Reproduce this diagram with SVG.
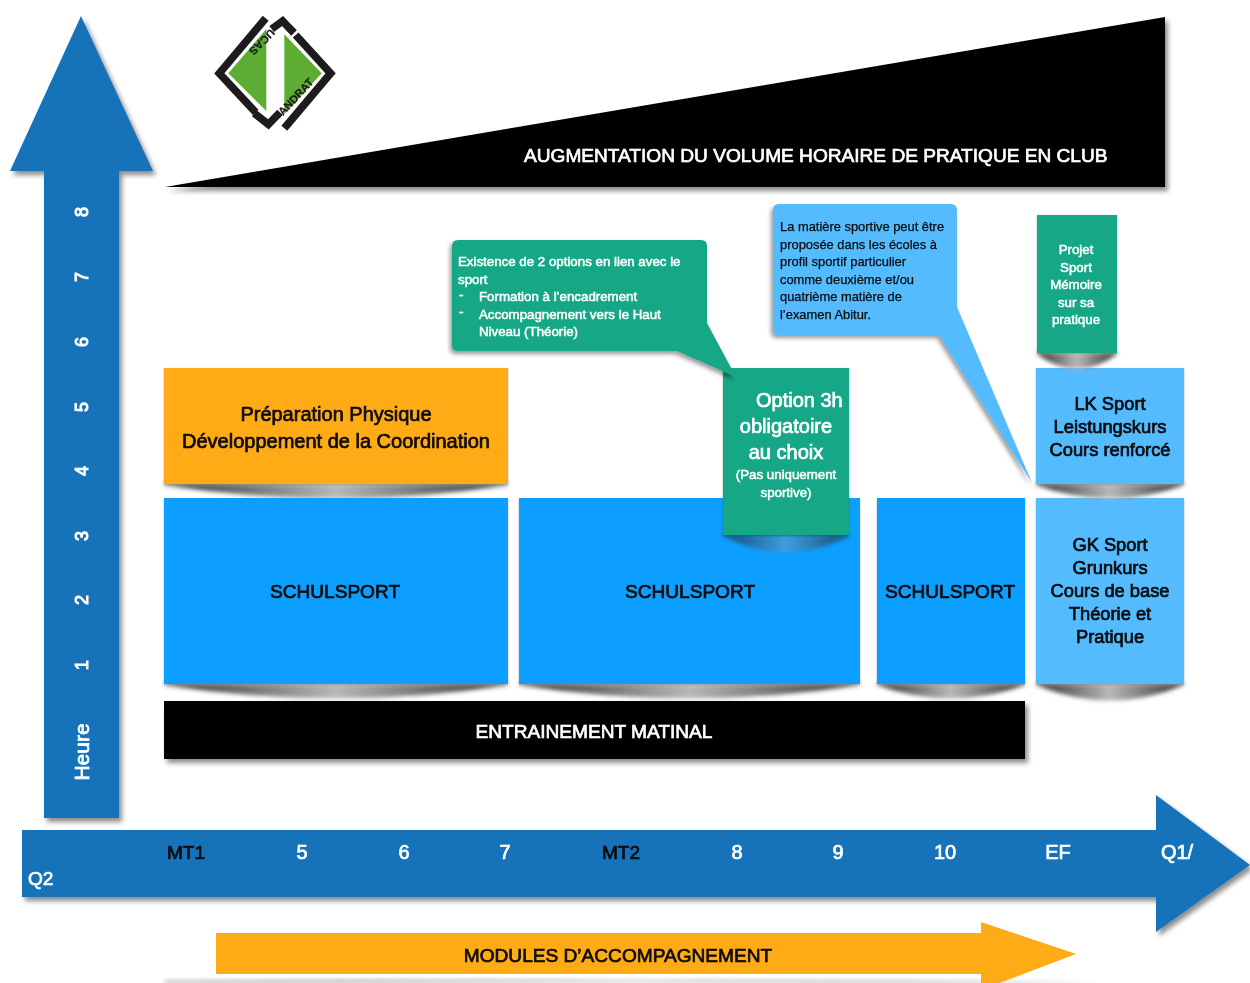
<svg xmlns="http://www.w3.org/2000/svg" width="1250" height="983" viewBox="0 0 1250 983">
<style>
text{font-family:"Liberation Sans",Arial,sans-serif;stroke-width:.7}
.k{fill:#0a0a0a;stroke:#0a0a0a}.w{fill:#fff;stroke:#fff}
.c{text-anchor:middle}
.t20{font-size:20px}.t19{font-size:19.1px}.t18{font-size:18.3px}.t13{font-size:13.3px;stroke-width:.5}.t12{font-size:12.9px;stroke-width:.25}
.n{font-size:18px;stroke-width:1}
.ds{filter:url(#ds)}
.cs{filter:url(#cs)}
.ls{filter:url(#ls)}
.curl{filter:url(#soft)}
</style>
<defs>
<filter id="ds" x="-10%" y="-10%" width="120%" height="125%"><feDropShadow dx="3" dy="4" stdDeviation="2.5" flood-color="#000" flood-opacity=".45"/></filter>
<filter id="cs" x="-10%" y="-10%" width="120%" height="125%"><feDropShadow dx="-2" dy="3" stdDeviation="2" flood-color="#000" flood-opacity=".4"/></filter>
<filter id="ls" x="-5%" y="-5%" width="110%" height="110%"><feDropShadow dx="0" dy="1" stdDeviation="1" flood-color="#000" flood-opacity=".3"/></filter>
<filter id="soft" x="-5%" y="-30%" width="110%" height="170%"><feGaussianBlur stdDeviation="2"/></filter>
<filter id="blur" x="0" y="0" width="100%" height="100%"><feGaussianBlur stdDeviation=".45"/></filter>
<linearGradient id="curl"><stop offset="0" stop-color="#333"/><stop offset=".5" stop-color="#b8b8b8"/><stop offset="1" stop-color="#333"/></linearGradient>
<linearGradient id="curlB"><stop offset="0" stop-color="#174a70"/><stop offset=".5" stop-color="#3e9ede"/><stop offset="1" stop-color="#174a70"/></linearGradient>
</defs>
<rect width="1250" height="983" fill="#fff"/>
<g filter="url(#blur)">

<g id="axis-heure">
<polygon class="ds" fill="#1573BA" points="81,16 153,171 119,171 119,818 44,818 44,171 10,171"/>
<text class="w c n" transform="translate(88,212) rotate(-90)">8</text>
<text class="w c n" transform="translate(88,277) rotate(-90)">7</text>
<text class="w c n" transform="translate(88,342) rotate(-90)">6</text>
<text class="w c n" transform="translate(88,407) rotate(-90)">5</text>
<text class="w c n" transform="translate(88,471) rotate(-90)">4</text>
<text class="w c n" transform="translate(88,536) rotate(-90)">3</text>
<text class="w c n" transform="translate(88,600) rotate(-90)">2</text>
<text class="w c n" transform="translate(88,665) rotate(-90)">1</text>
<text class="w c" style="font-size:21px" transform="translate(89,752) rotate(-90)">Heure</text>
</g>

<g id="logo" transform="translate(200,5) scale(.3333)">
<g fill="none" stroke="#1c1a1a" stroke-width="23">
<polyline points="197,40 58,205 167,322"/>
<polyline points="163,325 205,358 240,322"/>
<polyline points="253,370 392,205 287,90"/>
<polyline points="215,72 248,48 282,84"/>
</g>
<polygon fill="#5BAD30" points="85,205 199,72 199,318"/>
<polygon fill="#5BAD30" points="253,88 365,205 253,328"/>
<text fill="#1c1a1a" stroke="#1c1a1a" stroke-width="1.5" font-weight="bold" font-size="33" text-anchor="middle" transform="translate(178,103) rotate(135)">UCAS</text>
<text fill="#1c1a1a" stroke="#1c1a1a" stroke-width="1.5" font-weight="bold" font-size="33" text-anchor="middle" transform="translate(296,283) rotate(-47)">ANDRAT</text>
</g>

<g id="volume">
<polygon class="ds" fill="#000" points="165,187 1165,17 1165,187"/>
<text class="w t19" x="524" y="162">AUGMENTATION DU VOLUME HORAIRE DE PRATIQUE EN CLUB</text>
</g>

<g id="preparation">
<path class="curl" fill="url(#curl)" d="M164,484H508V485Q336,512 164,485Z"/>
<rect class="ls" x="164" y="368" width="344" height="116" fill="#FFAB14"/>
<text class="k c t20" x="336" y="421">Préparation Physique</text>
<text class="k c t20" x="336" y="448">Développement de la Coordination</text>
</g>

<g id="schulsport-1">
<path class="curl" fill="url(#curl)" d="M164,684H508V685Q336,712 164,685Z"/>
<rect class="ls" x="164" y="498" width="344" height="186" fill="#0F9FFF"/>
<text class="k c t19" x="335" y="598">SCHULSPORT</text>
</g>
<g id="schulsport-2">
<path class="curl" fill="url(#curl)" d="M519,684H860V685Q690,712 519,685Z"/>
<rect class="ls" x="519" y="498" width="341" height="186" fill="#0F9FFF"/>
<text class="k c t19" x="690" y="598">SCHULSPORT</text>
</g>
<g id="schulsport-3">
<path class="curl" fill="url(#curl)" d="M877,684H1025V685Q951,712 877,685Z"/>
<rect class="ls" x="877" y="498" width="148" height="186" fill="#0F9FFF"/>
<text class="k c t19" x="950" y="598">SCHULSPORT</text>
</g>

<g id="gk-sport">
<path class="curl" fill="url(#curl)" d="M1036,684H1184V685Q1110,716 1036,685Z"/>
<rect class="ls" x="1036" y="498" width="148" height="186" fill="#55BBFF"/>
<text class="k c t18" x="1110" y="550.500">GK Sport</text>
<text class="k c t18" x="1110" y="573.500">Grunkurs</text>
<text class="k c t18" x="1110" y="596.500">Cours de base</text>
<text class="k c t18" x="1110" y="619.500">Théorie et</text>
<text class="k c t18" x="1110" y="642.500">Pratique</text>
</g>

<g id="lk-sport">
<path class="curl" fill="url(#curl)" d="M1036,484H1184V485Q1110,512 1036,485Z"/>
<rect class="ls" x="1036" y="368" width="148" height="116" fill="#55BBFF"/>
<text class="k c t18" x="1110" y="410">LK Sport</text>
<text class="k c t18" x="1110" y="433">Leistungskurs</text>
<text class="k c t18" x="1110" y="456">Cours renforcé</text>
</g>

<g id="projet">
<path class="curl" fill="url(#curl)" d="M1037,353H1117V354Q1077,384 1037,354Z"/>
<rect class="ls" x="1037" y="215" width="80" height="138" fill="#15A886"/>
<text class="w c t13" x="1076" y="253.500">Projet</text>
<text class="w c t13" x="1076" y="271.500">Sport</text>
<text class="w c t13" x="1076" y="288.500">Mémoire</text>
<text class="w c t13" x="1076" y="306.500">sur sa</text>
<text class="w c t13" x="1076" y="323.500">pratique</text>
</g>

<g id="entrainement">
<rect class="ds" x="164" y="701" width="861" height="58" fill="#000"/>
<text class="w c t19" x="594" y="737.500">ENTRAINEMENT MATINAL</text>
</g>

<g id="option">
<path class="curl" fill="url(#curlB)" d="M723,535H849V536Q786,568 723,536Z"/>
<rect class="ls" x="723" y="368" width="126" height="167" fill="#15A886"/>
<text class="w t20" x="756" y="407">Option 3h</text>
<text class="w c t20" x="786" y="433">obligatoire</text>
<text class="w c t20" x="786" y="459">au choix</text>
<text class="w c t13" x="786" y="478.500">(Pas uniquement</text>
<text class="w c t13" x="786" y="496.500">sportive)</text>
</g>

<g id="callout-options">
<path class="cs" fill="#15A886" d="M458,240H701Q707,240 707,246V323L736,377L677,351H458Q452,351 452,345V246Q452,240 458,240Z"/>
<text class="w t13" x="458" y="265.500">Existence de 2 options en lien avec le</text>
<text class="w t13" x="458" y="283.500">sport</text>
<text class="w t13" x="459" y="298.500">-</text>
<text class="w t13" x="479" y="300.500">Formation à l’encadrement</text>
<text class="w t13" x="459" y="316">-</text>
<text class="w t13" x="479" y="318.500">Accompagnement vers le Haut</text>
<text class="w t13" x="479" y="335.500">Niveau (Théorie)</text>
</g>

<g id="callout-abitur">
<path class="cs" fill="#55BBFF" d="M779,204H951Q957,204 957,210V307L1032,483L939,335H779Q773,335 773,329V210Q773,204 779,204Z"/>
<text class="k t12" x="780" y="230.500">La matière sportive peut être</text>
<text class="k t12" x="780" y="248.500">proposée dans les écoles à</text>
<text class="k t12" x="780" y="265.500">profil sportif particulier</text>
<text class="k t12" x="780" y="283.500">comme deuxième et/ou</text>
<text class="k t12" x="780" y="300.500">quatrième matière de</text>
<text class="k t12" x="780" y="318.500">l’examen Abitur.</text>
</g>

<g id="axis-classes">
<polygon class="ds" fill="#1573BA" points="22,830 1156,830 1156,795 1250,865 1156,932 1156,897 22,897"/>
<text class="k c t19" x="186" y="858.500">MT1</text>
<text class="w c t20" x="302" y="859">5</text>
<text class="w c t20" x="404" y="859">6</text>
<text class="w c t20" x="505" y="859">7</text>
<text class="k c t19" x="621" y="858.500">MT2</text>
<text class="w c t20" x="737" y="859">8</text>
<text class="w c t20" x="838" y="859">9</text>
<text class="w c t20" x="945" y="859">10</text>
<text class="w c t20" x="1058" y="859">EF</text>
<text class="w c t20" x="1177" y="859">Q1/</text>
<text class="w t19" x="28" y="884.500">Q2</text>
</g>

<g id="modules">
<path class="curl" fill="url(#curl)" opacity=".5" d="M165,981Q620,976 1100,983H165Z"/>
<polygon fill="#FFAB14" points="216,933 981,933 981,922 1076,954 981,990 981,974 216,974"/>
<text class="k c t19" x="618" y="961.500">MODULES D’ACCOMPAGNEMENT</text>
</g>
</g>
</svg>
